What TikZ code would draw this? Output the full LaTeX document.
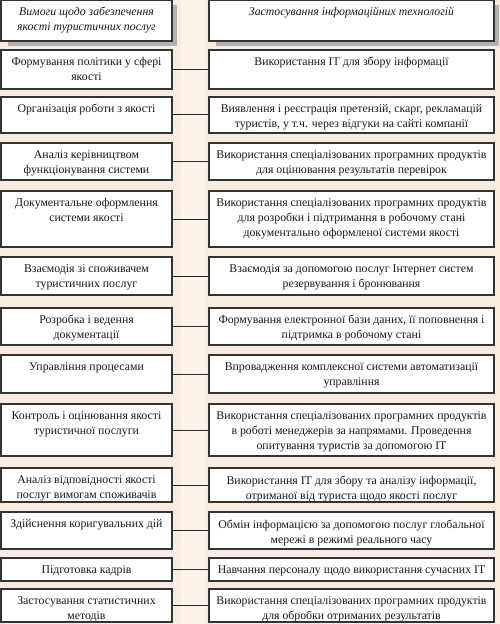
\documentclass[tikz,border=0pt]{standalone}
\usepackage{fontspec}
\setmainfont{Liberation Serif}
\tikzset{
  boxbase/.style={draw=black!80, line width=1.3bp, fill=white, inner sep=0pt, minimum height=#1},
  lbox/.style={boxbase=#1, minimum width=171bp},
  rbox/.style={boxbase=#1, minimum width=285bp},
  txt/.style={anchor=north, inner sep=0pt, align=center, font=\fontsize{11.8bp}{15bp}\selectfont, text=black!90},
  htxt/.style={txt, font=\fontsize{11.8bp}{15bp}\selectfont\itshape},
  link/.style={draw=black!85, line width=1bp},
  shadowfill/.style={fill=black!30, draw=none}
}
\newcommand\myrow[5]{%
  \node[lbox={(#3-#2)*1bp}] (L#1) at (86.5,{(#2+#3)/2}) {};
  \node[rbox={(#3-#2)*1bp}] (R#1) at (351.5,{(#2+#3)/2}) {};
  \node[txt] (LT#1) at ([yshift=-8bp]L#1.north) {#4};
  \node[txt] (RT#1) at ([yshift=-8bp]R#1.north) {#5};
  \draw[link] (L#1.east) -- (R#1.west);
}
\begin{document}
\begin{tikzpicture}[x=1bp,y=-1bp]
\useasboundingbox (0,0) rectangle (500,624);
\fill[fill={rgb,255:red,248;green,236;blue,224}] (0,0) rectangle (500,624);
\fill[fill={rgb,255:red,252;green,243;blue,234}] (181,0) rectangle (206,624);
% header shadows
\fill[shadowfill] (8,5) rectangle (177,46);
\fill[shadowfill] (216,5) rectangle (499,46);
% headers
\node[lbox=41bp] (HL) at (86.5,20.5) {};
\node[rbox=41bp] (HR) at (351.5,20.5) {};
\node[htxt] (HLT) at ([yshift=-8bp]HL.north) {Вимоги щодо забезпечення\\якості туристичних послуг};
\node[htxt] (HRT) at ([yshift=-8bp]HR.north) {Застосування інформаційних технологій};
% rows
\myrow{1}{50}{89}{Формування політики у сфері\\якості}{Використання ІТ для збору інформації}
\myrow{2}{97}{133}{Організація роботи з якості}{Виявлення і реєстрація претензій, скарг, рекламацій\\туристів, у т.ч. через відгуки на сайті компанії}
\myrow{3}{143}{180}{Аналіз керівництвом\\функціонування системи}{Використання спеціалізованих програмних продуктів\\для оцінювання результатів перевірок}
\myrow{4}{191}{247}{Документальне оформлення\\системи якості}{Використання спеціалізованих програмних продуктів\\для розробки і підтримання в робочому стані\\документально оформленої системи якості}
\myrow{5}{257}{295}{Взаємодія зі споживачем\\туристичних послуг}{Взаємодія за допомогою послуг Інтернет систем\\резервування і бронювання}
\myrow{6}{308}{345}{Розробка і ведення\\документації}{Формування електронної бази даних, її поповнення і\\підтримка в робочому стані}
\myrow{7}{355}{393}{Управління процесами}{Впровадження комплексної системи автоматизації\\управління}
\myrow{8}{404}{456}{Контроль і оцінювання якості\\туристичної послуги}{Використання спеціалізованих програмних продуктів\\в роботі менеджерів за напрямами. Проведення\\опитування туристів за допомогою ІТ}
\myrow{9}{468}{502}{Аналіз відповідності якості\\послуг вимогам споживачів}{Використання ІТ для збору та аналізу інформації,\\отриманої від туриста щодо якості послуг}
\myrow{10}{512}{549}{Здійснення коригувальних дій}{Обмін інформацією за допомогою послуг глобальної\\мережі в режимі реального часу}
\myrow{11}{558}{581}{Підготовка кадрів}{Навчання персоналу щодо використання сучасних ІТ}
\myrow{12}{589}{622}{Застосування статистичних\\методів}{Використання спеціалізованих програмних продуктів\\для обробки отриманих результатів}
\end{tikzpicture}
\end{document}
